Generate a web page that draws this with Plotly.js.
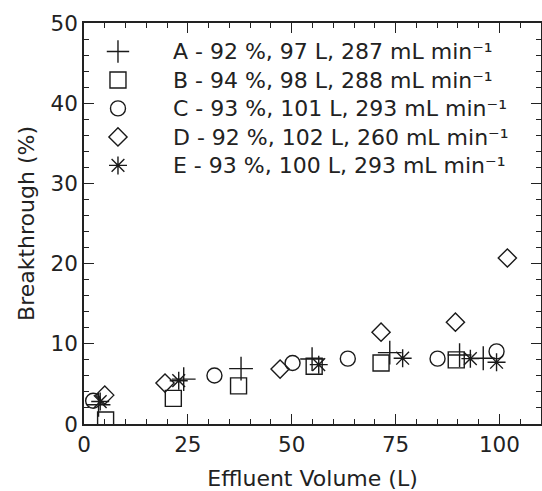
<!DOCTYPE html>
<html><head><meta charset="utf-8">
<script src="https://cdn.plot.ly/plotly-3.0.1.min.js"></script>
<style>html,body{margin:0;padding:0;background:#fff}</style>
</head><body>
<div id="chart" style="width:542px;height:491px"></div>
<script>
const names = [
  "A - 92 %, 97 L, 287 mL min⁻¹",
  "B - 94 %, 98 L, 288 mL min⁻¹",
  "C - 93 %, 101 L, 293 mL min⁻¹",
  "D - 92 %, 102 L, 260 mL min⁻¹",
  "E - 93 %, 100 L, 293 mL min⁻¹"
];
const aX = [3.5, 24.0, 37.8, 54.9, 73.6, 90.4, 96.1];
const aY = [2.4, 5.6, 6.9, 8.1, 8.9, 8.6, 8.2];
const bX = [5.2, 21.5, 37.2, 55.4, 71.5, 89.6];
const bY = [0.5, 3.2, 4.75, 7.2, 7.6, 8.0];
const cX = [2.2, 31.4, 50.2, 63.5, 85.1, 99.3];
const cY = [2.9, 6.05, 7.6, 8.15, 8.15, 9.05];
const dX = [5.0, 19.5, 47.2, 71.5, 89.4, 101.9];
const dY = [3.6, 5.1, 6.85, 11.45, 12.7, 20.7];
const eX = [3.9, 22.8, 56.5, 76.7, 93.0, 99.3];
const eY = [2.8, 5.4, 7.4, 8.2, 8.15, 7.7];

const symbols = ["cross-thin-open", "square-open", "circle-open", "diamond-open", "asterisk-open"];
const sizes = [17, 16, 15, 14, 15];
const xs = [aX, bX, cX, dX, eX];
const ys = [aY, bY, cY, dY, eY];

const traces = names.map((n, i) => ({
  x: xs[i], y: ys[i], name: '<span style="font-size:22px">' + n + '</span>',
  type: "scatter", mode: "markers",
  marker: {symbol: symbols[i], size: sizes[i], color: "#1a1a1a", line: {color: "#1a1a1a", width: 1.4}}
}));

const fam = "DejaVu Sans, sans-serif";
const font = {family: fam, size: 21.5, color: "#222"};
const layout = {
  width: 542, height: 491,
  margin: {l: 84, r: 1, t: 23, b: 67},
  paper_bgcolor: "#fff", plot_bgcolor: "#fff",
  font: font,
  showlegend: true,
  legend: {x: -0.046, y: 0.977, xanchor: "left", yanchor: "top", bgcolor: "rgba(0,0,0,0)",
           font: {family: fam, size: 19.6, color: "#222"}, itemwidth: 100},
  xaxis: {
    range: [0, 110], tickvals: [0, 25, 50, 75, 100], ticks: "inside", ticklen: 10, tickwidth: 1.2,
    tickcolor: "#222", showline: true, linecolor: "#222", linewidth: 1.5, mirror: "ticks",
    showgrid: false, zeroline: false,
    minor: {dtick: 5, ticks: "inside", ticklen: 5, tickcolor: "#222", tickwidth: 1, showgrid: false},
    title: {text: "Effluent Volume (L)", font: {family: fam, size: 22, color: "#222"}, standoff: 16},
    tickfont: font
  },
  yaxis: {
    range: [0, 50], tickvals: [0, 10, 20, 30, 40, 50], ticks: "inside", ticklen: 10, tickwidth: 1.2,
    tickcolor: "#222", showline: true, linecolor: "#222", linewidth: 1.5, mirror: "ticks",
    showgrid: false, zeroline: false,
    minor: {dtick: 2, ticks: "inside", ticklen: 5, tickcolor: "#222", tickwidth: 1, showgrid: false},
    title: {text: "Breakthrough (%)", font: {family: fam, size: 22, color: "#222"}, standoff: 10},
    tickfont: font
  }
};
Plotly.newPlot("chart", traces, layout, {displayModeBar: false});
</script>
</body></html>
